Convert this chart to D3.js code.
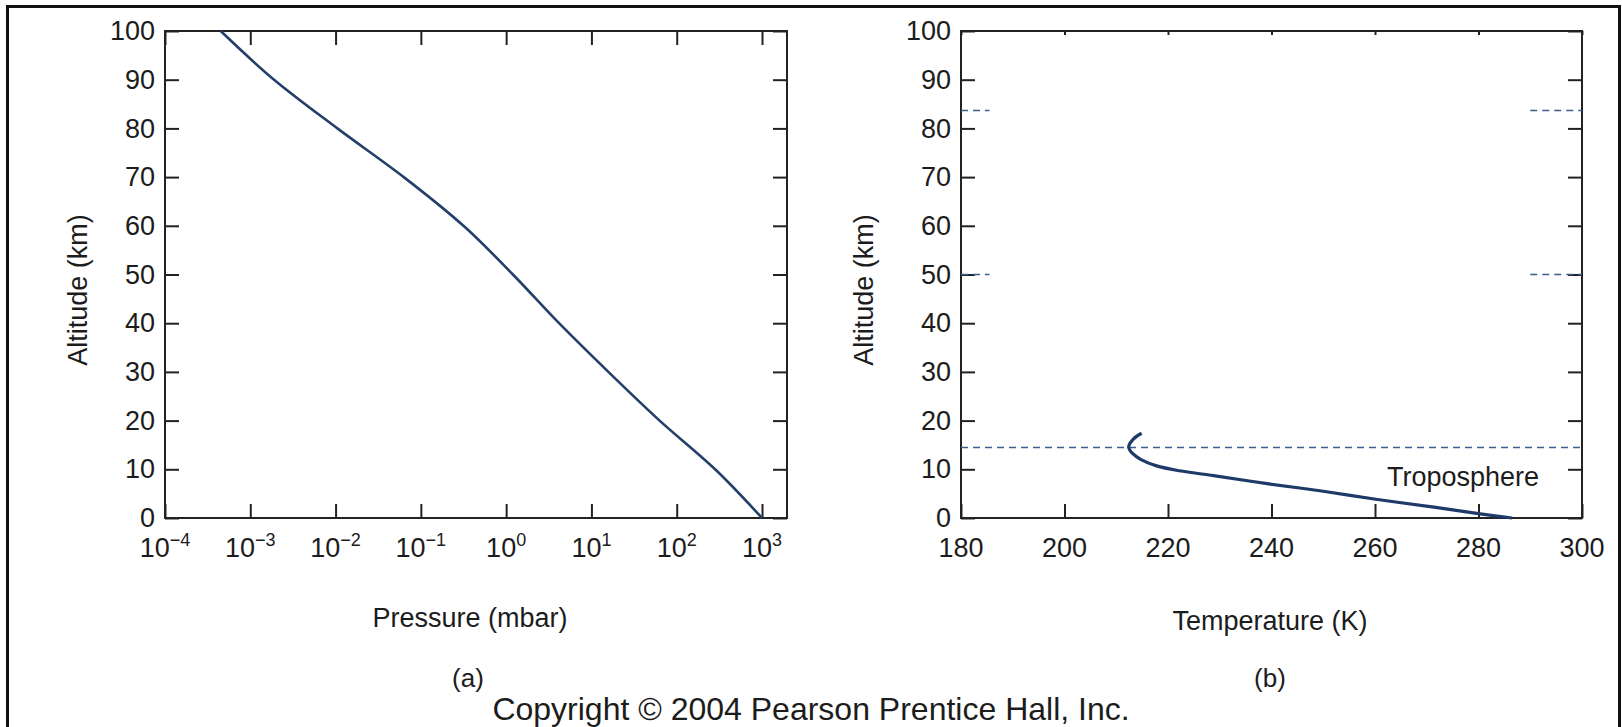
<!DOCTYPE html>
<html>
<head>
<meta charset="utf-8">
<script src="https://cdn.jsdelivr.net/npm/d3@7"></script>
<style>
  body { margin: 0; background: #fff; }
  svg text { font-family: "Liberation Sans", Arial, sans-serif; fill: #1c1c1c; }
</style>
</head>
<body>
<div id="chart"></div>
<script>
// pressure profile (panel a)
var pressure = [1000, 282, 63, 15.8, 4.17, 1.2, 0.316, 0.063, 0.0105, 0.0019, 0.00045];
var pressureAlt = [0, 10, 20, 30, 40, 50, 60, 70, 80, 90, 100];
var pressureTicks = [-4, -3, -2, -1, 0, 1, 2, 3];

// temperature profile (panel b)
var temperature = [214.9, 213.3, 212.4, 213.2, 214.8, 217.8, 222.2, 228.8, 239.5, 250, 260.5, 271, 280, 286.5];
var temperatureAlt = [17.4, 16.2, 14.6, 13.2, 12.0, 10.7, 9.7, 8.7, 7.0, 5.5, 3.8, 2.3, 0.9, 0];
var tempTicks = [180, 200, 220, 240, 260, 280, 300];
var altTicks = [0, 10, 20, 30, 40, 50, 60, 70, 80, 90, 100];

// dashed layer boundaries: [altitude, T from, T to]
var boundaries = [[14.5, 180, 300], [83.7, 180, 185.5], [83.7, 290, 300], [50, 180, 185.5], [50, 290, 300]];

var W = 1622, H = 727;
var svg = d3.select("#chart").append("svg").attr("width", W).attr("height", H);

// outer frame
svg.append("rect").attr("x", 7.5).attr("y", 6.5).attr("width", 1612).attr("height", 760)
   .attr("fill", "none").attr("stroke", "#111").attr("stroke-width", 3);

var plotTop = 31, plotBottom = 518, tick = 14, fs = 27;

function frame(x0, x1, y, xTicks, xScale, topTick) {
  var g = svg.append("g");
  g.append("rect").attr("x", x0).attr("y", plotTop).attr("width", x1 - x0).attr("height", plotBottom - plotTop)
   .attr("fill", "none").attr("stroke", "#222").attr("stroke-width", 2);

  var ax = g.append("g").attr("transform", "translate(" + x0 + ",0)")
    .call(d3.axisLeft(y).tickValues(altTicks).tickSize(-tick).tickPadding(10));
  ax.selectAll("text").style("font-size", fs + "px");
  g.append("g").attr("transform", "translate(" + x1 + ",0)")
    .call(d3.axisRight(y).tickValues(altTicks).tickSize(-tick).tickFormat(""));
  g.append("g").attr("transform", "translate(0," + plotBottom + ")")
    .call(d3.axisBottom(xScale).tickValues(xTicks).tickSize(-tick).tickFormat(""));
  g.append("g").attr("transform", "translate(0," + plotTop + ")")
    .call(d3.axisTop(xScale).tickValues(xTicks).tickSize(-topTick).tickFormat(""));

  g.selectAll(".domain").remove();
  g.selectAll(".tick line").attr("stroke", "#222").attr("stroke-width", 2);
  g.selectAll(".tick text").attr("fill", "#1c1c1c");
  return g;
}

// ---------- panel (a) ----------
var xa = d3.scaleLog().domain([1e-4, 1e3]).range([165, 762]);
var ya = d3.scaleLinear().domain([0, 100]).range([plotBottom, plotTop]);
var decades = pressureTicks.map(function (e) { return Math.pow(10, e); });
var ga = frame(165, 787, ya, decades, xa, tick);

var lab = ga.selectAll(".plab").data(pressureTicks).enter().append("text")
  .attr("class", "plab")
  .attr("x", function (e) { return xa(Math.pow(10, e)); })
  .attr("y", 557)
  .attr("text-anchor", "middle")
  .style("font-size", fs + "px");
lab.append("tspan").text("10");
lab.append("tspan").attr("dy", -11).style("font-size", "18px")
   .text(function (e) { return e < 0 ? "\u2212" + (-e) : "" + e; });

var pts = pressure.map(function (p, i) { return [xa(p), ya(pressureAlt[i])]; });
svg.append("path").attr("d", d3.line().curve(d3.curveMonotoneY)(pts))
   .attr("fill", "none").attr("stroke", "#233f6a").attr("stroke-width", 2.6);

svg.append("text").attr("x", 470).attr("y", 627).attr("text-anchor", "middle")
   .style("font-size", "27px").text("Pressure (mbar)");
svg.append("text").attr("transform", "translate(87,290) rotate(-90)").attr("text-anchor", "middle")
   .style("font-size", "27px").text("Altitude (km)");
svg.append("text").attr("x", 468).attr("y", 687).attr("text-anchor", "middle")
   .style("font-size", "26px").text("(a)");

// ---------- panel (b) ----------
var xb = d3.scaleLinear().domain([180, 300]).range([961, 1582]);
var yb = d3.scaleLinear().domain([0, 100]).range([plotBottom, plotTop]);
var gb = frame(961, 1582, yb, tempTicks, xb, 4);

gb.selectAll(".tlab").data(tempTicks).enter().append("text")
  .attr("x", function (d) { return xb(d); })
  .attr("y", 557)
  .attr("text-anchor", "middle")
  .style("font-size", fs + "px")
  .text(function (d) { return d; });

svg.selectAll(".bound").data(boundaries).enter().append("line")
  .attr("x1", function (d) { return xb(d[1]); })
  .attr("x2", function (d) { return xb(d[2]); })
  .attr("y1", function (d) { return yb(d[0]); })
  .attr("y2", function (d) { return yb(d[0]); })
  .attr("stroke", "#3a5f92").attr("stroke-width", 1.5).attr("stroke-dasharray", "7,5");

var tpts = temperature.map(function (t, i) { return [xb(t), yb(temperatureAlt[i])]; });
svg.append("path").attr("d", d3.line().curve(d3.curveCatmullRom)(tpts))
   .attr("fill", "none").attr("stroke", "#1d3a68").attr("stroke-width", 3.2);

svg.append("text").attr("x", 1463).attr("y", 486).attr("text-anchor", "middle")
   .style("font-size", "27px").text("Troposphere");
svg.append("text").attr("x", 1270).attr("y", 630).attr("text-anchor", "middle")
   .style("font-size", "27px").text("Temperature (K)");
svg.append("text").attr("transform", "translate(873,290) rotate(-90)").attr("text-anchor", "middle")
   .style("font-size", "27px").text("Altitude (km)");
svg.append("text").attr("x", 1270).attr("y", 687).attr("text-anchor", "middle")
   .style("font-size", "26px").text("(b)");

svg.append("text").attr("x", 811).attr("y", 720).attr("text-anchor", "middle")
   .style("font-size", "32px").text("Copyright \u00a9 2004 Pearson Prentice Hall, Inc.");
</script>
</body>
</html>
